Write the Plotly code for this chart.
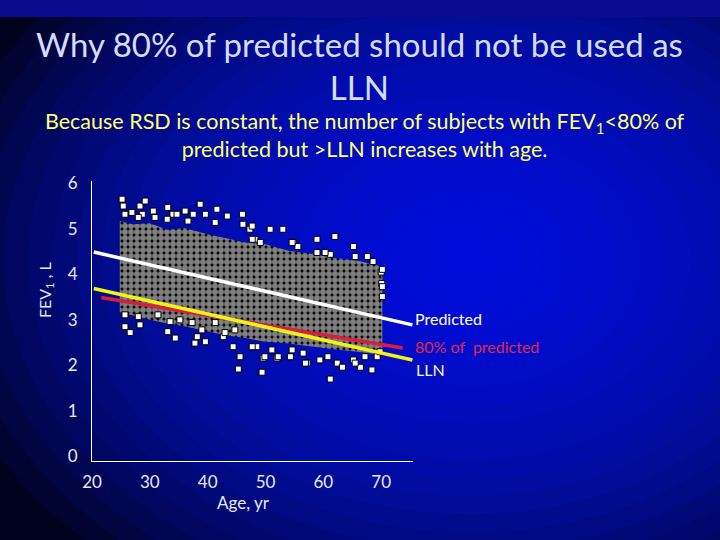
import plotly.graph_objects as go

# dense core of the scatter cloud (age, FEV1)
band_age = [24.8, 27.0, 30.0, 33.0, 36.0, 40.0, 43.0, 46.5, 50.0, 54.0, 58.0, 62.0, 66.0, 70.2,
            70.2, 66.0, 62.0, 58.0, 54.0, 50.0, 46.5, 43.0, 40.0, 36.0, 33.0, 30.0, 27.0, 24.8]
band_fev = [5.17, 5.10, 5.12, 4.98, 5.02, 4.88, 4.80, 4.70, 4.66, 4.52, 4.45, 4.36, 4.30, 4.17,
            2.23, 2.30, 2.35, 2.42, 2.48, 2.52, 2.60, 2.66, 2.74, 2.86, 2.92, 3.00, 3.10, 3.16]

# stray subjects around the dense core
pt_age = [25.4, 28.3, 29.2, 25.7, 28.7, 30.6, 33.1, 34.0, 36.1, 38.7, 39.6, 41.6, 43.4, 46.0,
          46.1, 47.3, 50.8, 53.0, 48.2, 54.8, 58.9, 62.0, 65.2, 58.9, 61.2, 68.6, 67.6, 25.2,
          25.7, 26.6, 28.3, 33.1, 34.4, 37.8, 38.2, 39.6, 42.7, 44.4, 45.6, 48.5, 49.6, 52.0,
          54.3, 56.5, 57.2, 59.4, 62.4, 65.2, 66.4, 69.3, 61.2, 45.3, 49.4, 70.0, 70.1, 69.8,
          26.9, 28.0, 30.9, 33.0, 36.6, 41.3, 37.5, 34.7, 47.7, 55.6, 54.6, 47.7, 49.1, 60.3,
          65.5, 70.2, 70.2, 70.2, 25.7, 28.0, 31.4, 33.5, 35.2, 37.3, 39.0, 41.3, 43.0, 44.7,
          49.9, 52.2, 54.6, 56.9, 60.8, 63.3, 65.5, 68.4, 67.2, 47.7, 51.1]
pt_fev = [5.50, 5.50, 5.61, 5.32, 5.32, 5.39, 5.47, 5.32, 5.39, 5.54, 5.32, 5.43, 5.28, 5.32,
          5.10, 4.99, 4.99, 4.99, 4.77, 4.70, 4.77, 4.83, 4.61, 4.48, 4.44, 4.28, 4.39, 5.65,
          2.85, 2.72, 2.89, 2.74, 2.60, 2.49, 2.63, 2.52, 2.63, 2.41, 2.19, 2.41, 2.16, 2.16,
          2.19, 2.27, 2.05, 2.12, 2.05, 2.12, 1.96, 2.19, 1.70, 1.92, 1.85, 4.05, 3.80, 2.30,
          5.36, 5.25, 5.25, 5.21, 5.17, 5.14, 5.32, 5.32, 5.06, 4.61, 4.70, 4.77, 4.70, 4.48,
          4.39, 4.11, 3.73, 3.51, 3.11, 3.07, 3.11, 2.96, 3.00, 2.94, 2.78, 2.94, 2.72, 2.78,
          2.19, 2.19, 2.34, 2.05, 2.19, 1.96, 2.05, 1.90, 2.19, 2.41, 2.34]

line_age = [20.3, 75.4]
predicted = [4.49, 2.89]
lln = [3.69, 2.12]
pct80_age = [21.6, 73.7]
pct80 = [3.49, 2.38]

x_ticks = [20, 30, 40, 50, 60, 70]
y_ticks = [0, 1, 2, 3, 4, 5, 6]

W, H = 720, 540
L, R, T, B = 92, 307, 181, 79
PW, PH = W - L - R, H - T - B


def px_x(px):
    return (px - L) / PW


def px_y(py):
    return (H - B - py) / PH


FONT = "Lato"

fig = go.Figure()

fig.add_trace(go.Scatter(
    x=band_age, y=band_fev, mode="lines", fill="toself", line=dict(width=0),
    fillcolor="black",
    fillpattern=dict(shape=".", bgcolor="black", fgcolor="white", size=6, solidity=0.75),
    hoverinfo="skip"))

fig.add_trace(go.Scatter(
    x=pt_age, y=pt_fev, mode="markers",
    marker=dict(symbol="square", size=6, color="white", line=dict(color="black", width=1))))

fig.add_trace(go.Scatter(x=line_age, y=predicted, mode="lines",
                         line=dict(color="white", width=3.5)))
fig.add_trace(go.Scatter(x=pct80_age, y=pct80, mode="lines",
                         line=dict(color="#d81e3c", width=3.5)))
fig.add_trace(go.Scatter(x=line_age, y=lln, mode="lines",
                         line=dict(color="#f2f218", width=3.5)))

# background: dark navy with a bright blue radial glow, plus the strip at the top
shapes = []
cx, cy = 470, 260
steps = 22
for i in range(steps):
    f = 1 - i / steps
    rx, ry = 540 * f, 400 * f
    shapes.append(dict(type="circle", xref="paper", yref="paper", layer="below",
                       x0=px_x(cx - rx), x1=px_x(cx + rx),
                       y0=px_y(cy + ry), y1=px_y(cy - ry),
                       fillcolor="rgba(12,28,255,0.085)", line=dict(width=0)))
shapes.append(dict(type="rect", xref="paper", yref="paper", layer="below",
                   x0=px_x(0), x1=px_x(W), y0=px_y(17), y1=px_y(0),
                   fillcolor="#0a0b8e", line=dict(width=0)))

annotations = [
    dict(text="Why 80% of predicted should not be used as<br>LLN",
         x=px_x(359), y=px_y(66), font=dict(size=33, color="#d4dcff", family=FONT)),
    dict(text="Because RSD is constant, the number of subjects with FEV<sub>1</sub>&lt;80% of<br>"
              "predicted but &gt;LLN increases with age.",
         x=px_x(365), y=px_y(135), font=dict(size=21.5, color="#ffff7a", family=FONT)),
    dict(text="FEV<sub>1</sub> , L", textangle=-90,
         x=px_x(45), y=px_y(290), font=dict(size=16, color="#e8e8f4", family=FONT)),
    dict(text="Age, yr", x=px_x(243), y=px_y(502),
         font=dict(size=17, color="#e8e8f4", family=FONT)),
    dict(text="Predicted", x=px_x(413), y=px_y(318), xanchor="left",
         font=dict(size=16, color="white", family=FONT)),
    dict(text="80% of  predicted", x=px_x(413), y=px_y(346), xanchor="left",
         font=dict(size=16, color="#e0284c", family=FONT)),
    dict(text="LLN", x=px_x(414), y=px_y(369), xanchor="left",
         font=dict(size=16, color="#f4f4a8", family=FONT)),
]
for a in annotations:
    a.setdefault("xanchor", "center")
    a.update(xref="paper", yref="paper", yanchor="middle", showarrow=False)

fig.update_layout(
    width=W, height=H,
    margin=dict(l=L, r=R, t=T, b=B),
    paper_bgcolor="#00031e",
    plot_bgcolor="rgba(0,0,0,0)",
    showlegend=False,
    shapes=shapes,
    annotations=annotations,
    xaxis=dict(range=[20, 75.5], tickvals=x_ticks, showgrid=False, zeroline=False,
               showline=True, linecolor="white", linewidth=1, ticks="",
               ticklabelstandoff=6,
               tickfont=dict(size=17, color="#e8e8f4", family=FONT)),
    yaxis=dict(range=[-0.1, 6.05], tickvals=y_ticks, showgrid=False, zeroline=False,
               showline=True, linecolor="white", linewidth=1, ticks="",
               ticklabelstandoff=10,
               tickfont=dict(size=17, color="#e8e8f4", family=FONT)),
)

fig.write_html("out.html", config={"displayModeBar": False},
               post_script="document.body.style.margin='0';")
